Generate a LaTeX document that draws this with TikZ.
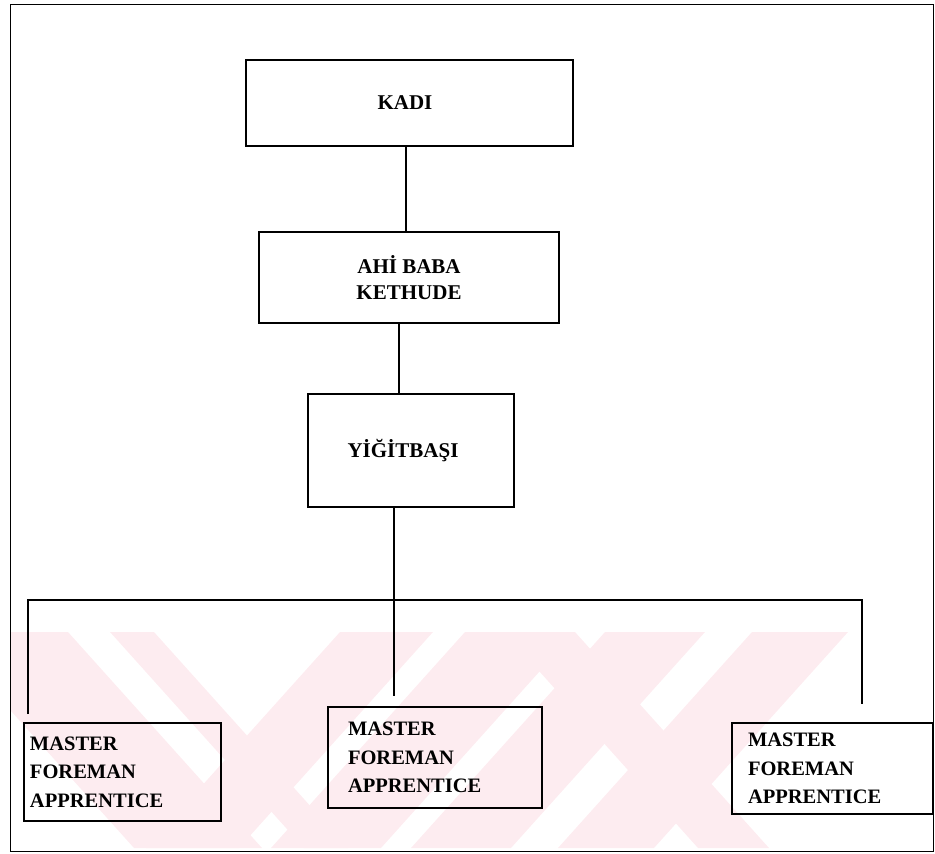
\documentclass[tikz,border=0pt]{standalone}
\usepackage{fontspec}
\setmainfont{Liberation Serif}
\definecolor{wmpink}{RGB}{253,236,240}
\tikzset{
  box/.style={draw, line width=1.3pt, inner sep=0pt},
  rank/.style={font=\bfseries\fontsize{21}{26}\selectfont, align=center},
  crew/.style={font=\bfseries\fontsize{20.5}{28.5}\selectfont, align=left},
  link/.style={line width=1.3pt}
}
\begin{document}
\begin{tikzpicture}[x=1pt,y=-1pt]
\useasboundingbox (0,0) rectangle (935,854);
% faint watermark behind the lower part
\begin{scope}
\clip (10,632) rectangle (932,848);
\foreach \a/\b in {-60/68,110/154,504/575}
  \fill[wmpink] (\a,632) -- (\b,632) -- (\b+194,848) -- (\a+194,848) -- cycle;
\foreach \a/\b in {340/433,465/575,605/705,752/848}
  \fill[wmpink] (\a,632) -- (\b,632) -- (\b-194,848) -- (\a-194,848) -- cycle;
\end{scope}
\draw[line width=0.9pt] (10,4) rectangle (933,851); % frame

\node[box, rank, minimum width=327pt, minimum height=86pt] (kadi) at (409.5,103) {KADI\hspace*{9pt}};
\node[box, rank, minimum width=300pt, minimum height=91pt] (ahi) at (409,277.5) {AHİ BABA\\KETHUDE};
\node[box, rank, minimum width=206pt, minimum height=113pt] (yigit) at (411,450.5) {YİĞİTBAŞI\hspace*{16pt}};

\node[box, crew, inner xsep=6pt, text width=185pt, minimum height=98pt] (usta1) at (122.5,772) {MASTER\\FOREMAN\\APPRENTICE};
\node[box, crew, inner xsep=20pt, text width=174pt, minimum height=101pt] (usta2) at (435,757.5) {MASTER\\FOREMAN\\APPRENTICE};
\node[box, crew, inner xsep=16pt, text width=169pt, minimum height=91pt] (usta3) at (832.5,768.5) {MASTER\\FOREMAN\\APPRENTICE};

\coordinate (upper) at (406,0);
\coordinate (mid) at (399,0);
\coordinate (bus) at (394,600);
\coordinate (busL) at (28,600);
\coordinate (busR) at (862,600);
\coordinate (endL) at (28,714);
\coordinate (endM) at (394,696);
\coordinate (endR) at (862,704);

\draw[link] (kadi.south -| upper) -- (ahi.north -| upper);
\draw[link] (ahi.south -| mid) -- (yigit.north -| mid);
\draw[link] (yigit.south -| bus) -- (endM);
\draw[link] (endL) -- (busL) -- (busR) -- (endR);
\end{tikzpicture}
\end{document}
